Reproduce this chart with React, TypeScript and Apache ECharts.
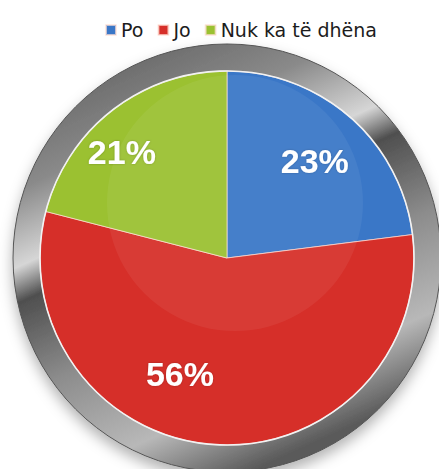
import React, { useEffect, useRef } from "react";
import * as echarts from "echarts";

const categories = ["Po", "Jo", "Nuk ka të dhëna"];
const values = [23, 56, 21];
const colors = ["#3a77c7", "#d62f29", "#9bc131"];
const labelShift: number[][] = [
  [24, -25],
  [-41, 20],
  [-46, -30],
];

export default function App() {
  const ref = useRef<HTMLDivElement>(null);
  useEffect(() => {
    const chart = echarts.init(ref.current!, null, { renderer: "svg" });
    const CX = 227;
    const CY = 258;
    const R = 187;
    const RO = 214;
    chart.setOption({
      animation: false,
      backgroundColor: "#ffffff",
      legend: {
        left: 100,
        top: 15,
        icon: "rect",
        itemWidth: 10,
        itemHeight: 10,
        itemGap: 14,
        textStyle: {
          fontFamily: "DejaVu Sans",
          fontSize: 19,
          color: "#1c1c1c",
          lineHeight: 20,
        },
        data: categories,
      },
      graphic: [
        {
          type: "ring",
          z: 0,
          shape: { cx: CX, cy: CY, r: RO, r0: R - 2 },
          style: {
            fill: new echarts.graphic.LinearGradient(0.1, 0, 0.55, 1, [
              { offset: 0, color: "#5a5a5a" },
              { offset: 0.25, color: "#8a8a8a" },
              { offset: 0.4, color: "#d6d6d6" },
              { offset: 0.47, color: "#4f4f4f" },
              { offset: 0.65, color: "#8c8c8c" },
              { offset: 0.85, color: "#b8b8b8" },
              { offset: 1, color: "#5a5a5a" },
            ]),
            stroke: "#555555",
            lineWidth: 1,
            shadowBlur: 14,
            shadowOffsetY: 7,
            shadowColor: "rgba(0,0,0,0.3)",
          },
        },
        {
          type: "circle",
          z: 100,
          silent: true,
          shape: { cx: CX + 8, cy: CY - 55, r: 128 },
          style: { fill: "rgba(255,255,255,0.06)" },
        },
        {
          type: "circle",
          z: 101,
          silent: true,
          shape: { cx: CX, cy: CY, r: R },
          style: { fill: "none", stroke: "#f2f2f2", lineWidth: 1.6 },
        },
      ],
      series: [
        {
          type: "pie",
          center: [CX, CY],
          radius: [0, R],
          startAngle: 90,
          clockwise: true,
          z: 2,
          itemStyle: {
            borderColor: "rgba(255,225,215,0.7)",
            borderWidth: 1,
          },
          label: {
            show: true,
            position: "inside",
            formatter: "{c}%",
            color: "#ffffff",
            fontFamily: "Liberation Sans",
            fontWeight: "bold",
            fontSize: 34,
            textShadowColor: "rgba(0,0,0,0.25)",
            textShadowBlur: 2,
          },
          labelLine: { show: false },
          labelLayout: (p: any) => ({
            dx: labelShift[p.dataIndex][0],
            dy: labelShift[p.dataIndex][1],
          }),
          emphasis: { disabled: true },
          data: categories.map((name, i) => ({
            name,
            value: values[i],
            itemStyle: { color: colors[i] },
          })),
        },
      ],
    });
    return () => chart.dispose();
  }, []);
  return (
    <div
      ref={ref}
      style={{ position: "fixed", left: 0, top: 0, width: 439, height: 469 }}
    />
  );
}
